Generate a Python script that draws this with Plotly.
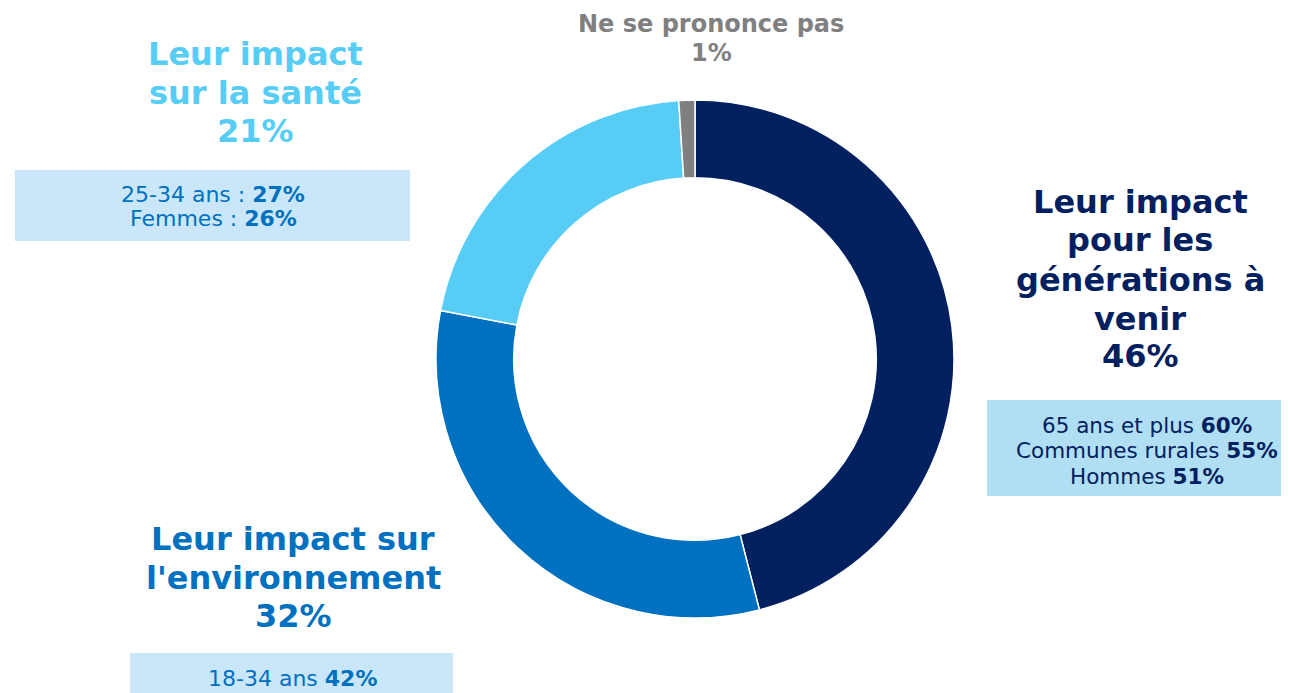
import plotly.graph_objects as go

# slices, clockwise from 12 o'clock
labels = ["Leur impact pour les générations à venir", "Leur impact sur l'environnement",
          "Leur impact sur la santé", "Ne se prononce pas"]
values = [46, 32, 21, 1]
colors = ["#002060", "#0070C0", "#57CDF6", "#808080"]

# detail boxes (sub-groups)
sante_groups = ["25-34 ans :", "Femmes :"]
sante_vals = ["27%", "26%"]
gen_groups = ["65 ans et plus", "Communes rurales", "Hommes"]
gen_vals = ["60%", "55%", "51%"]
env_groups = ["18-34 ans"]
env_vals = ["42%"]

OFF = 8  # page body margin
W, H = 1289, 693
FONT = "DejaVu Sans, Verdana, sans-serif"


def px(x, y):
    # screen pixel -> paper coordinates
    return (x - OFF) / W, 1 - (y - OFF) / H


cx, cy, r = 695, 359, 259
x0, y0 = px(cx - r, cy - r)
x1, y1 = px(cx + r, cy + r)

fig = go.Figure(go.Pie(
    labels=labels, values=values, sort=False, direction="clockwise", rotation=0,
    hole=0.70, marker=dict(colors=colors, line=dict(color="white", width=1.5)),
    textinfo="none", hoverinfo="label+percent", showlegend=False,
    domain=dict(x=[x0, x1], y=[y1, y0]),
))


def add_box(bx0, by0, bx1, by1, color):
    ax0, ay0 = px(bx0, by0)
    ax1, ay1 = px(bx1, by1)
    fig.add_shape(type="rect", xref="paper", yref="paper", layer="below",
                  x0=ax0, x1=ax1, y0=ay1, y1=ay0,
                  fillcolor=color, line=dict(width=0))


def add_lines(x, ys, lines, color, size):
    for y, t in zip(ys, lines):
        ax, ay = px(x, y)
        fig.add_annotation(x=ax, y=ay, xref="paper", yref="paper", text=t, showarrow=False,
                           xanchor="center", yanchor="middle", align="center",
                           font=dict(family=FONT, size=size, color=color))


def detail(groups, vals):
    return [f"{g} <b>{v}</b>" for g, v in zip(groups, vals)]


# boxes
add_box(15, 170, 410, 241, "#C9E7F8")
add_box(987, 400, 1300, 496, "#B0DEF3")
add_box(130, 653, 453, 710, "#C9E7F8")

# titles
add_lines(255, [54, 93, 131],
          ["<b>Leur impact</b>", "<b>sur la santé</b>", f"<b>{values[2]}%</b>"], colors[2], 32)
add_lines(1140, [202, 240, 280, 319, 356],
          ["<b>Leur impact</b>", "<b>pour les</b>", "<b>générations à</b>", "<b>venir</b>",
           f"<b>{values[0]}%</b>"], colors[0], 32)
add_lines(293, [539, 578, 616],
          ["<b>Leur impact sur</b>", "<b>l'environnement</b>", f"<b>{values[1]}%</b>"],
          colors[1], 32)
add_lines(711, [24, 53], ["<b>Ne se prononce pas</b>", f"<b>{values[3]}%</b>"], colors[3], 24)

# detail texts
add_lines(213, [195, 219], detail(sante_groups, sante_vals), "#0070C0", 22)
add_lines(1147, [425, 450, 476], detail(gen_groups, gen_vals), "#002060", 21.5)
add_lines(292, [678], detail(env_groups, env_vals), "#0070C0", 22)

fig.update_layout(
    width=W, height=H, margin=dict(l=0, r=0, t=0, b=0),
    paper_bgcolor="white", plot_bgcolor="white",
    font=dict(family=FONT),
)

fig.write_html("out.html")
